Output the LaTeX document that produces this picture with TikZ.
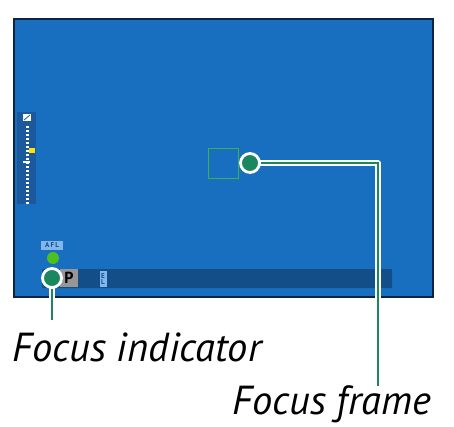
\documentclass[tikz,border=0pt]{standalone}
\usepackage{fontspec}
\setmainfont{PT Sans}
\usepackage{tikz}

\definecolor{screenblue}{RGB}{24,111,192}
\definecolor{bardark}{RGB}{19,78,136}
\definecolor{scaleblue}{RGB}{28,88,156}
\definecolor{rimnavy}{RGB}{12,36,66}
\definecolor{callgreen}{RGB}{26,135,95}
\definecolor{framegreen}{RGB}{60,178,72}
\definecolor{dotgreen}{RGB}{78,192,30}
\definecolor{tagblue}{RGB}{130,182,236}
\definecolor{pgray}{RGB}{150,150,150}

\tikzset{
  callout/.style={circle, draw=white, line width=2.8pt, fill=callgreen,
    minimum size=19pt, inner sep=0pt},
  leadwhite/.style={white, line width=5.5pt},
  leadgreen/.style={callgreen, line width=2.6pt},
  caption/.style={font=\itshape\fontsize{40.5}{44}\selectfont, inner sep=0pt},
  tag/.style={fill=tagblue, text=bardark, font=\bfseries\fontsize{7}{7}\selectfont,
    inner sep=0.6pt}
}

\begin{document}
\begin{tikzpicture}[x=1pt, y=-1pt]
		\useasboundingbox (0,0) rectangle (454,427);
		% screen
		\draw[rimnavy, line width=1.2pt, fill=screenblue] (14,19) rectangle (433,297);
		% exposure scale
		\fill[scaleblue] (17,112) rectangle (36,204);
		\fill[white] (23,114) rectangle (31,121);
		\draw[scaleblue, line width=0.8pt] (24,120) -- (30,115);
		\foreach \y in {126,130,...,202}
			\fill[white] (25.5,\y) rectangle (29,\y+1.6);
		\fill[white] (23,161) rectangle (30,163.5);
		\fill[yellow!85!orange] (29,148.5) rectangle (35,153.5);
		% bottom bar
		\fill[bardark, rounded corners=1pt] (42,269) rectangle (392,288);
		\fill[pgray] (60,269) rectangle (78,287);
		\node[font=\bfseries\fontsize{16}{16}\selectfont, inner sep=0pt] (pmode) at (69,278) {P};
		\node[tag, align=center, minimum width=7pt, minimum height=16pt] (elock) at (103,279) {E\\[-1.5pt]L};
		% focus indicator
		\node[tag, minimum width=22pt, minimum height=9pt] (afl) at (52,245) {A\,F\,L};
		\node[circle, fill=dotgreen, minimum size=12pt, inner sep=0pt] (fdot) at (53,258) {};
		% focus frame
		\node[draw=framegreen, line width=0.8pt, minimum size=30pt, inner sep=0pt] (fframe) at (223,163) {};
		% callouts
		\coordinate (indEnd) at (52,320);
		\coordinate (bend) at (378,163);
		\coordinate (frmEnd) at (378,386);
		\node[caption, anchor=base west] (indLabel) at (12,361) {Focus indicator};
		\node[caption, anchor=base west] (frmLabel) at (232,414) {Focus frame};
		\draw[leadwhite] (52,278) -- (indEnd);
		\draw[leadgreen] (52,278) -- (indEnd);
		\draw[leadwhite, line join=round] (250,163) -- (bend) -- (frmEnd);
		\draw[leadgreen] (250,163) -- (bend) -- (frmEnd);
		\node[callout] (indDot) at (52,278) {};
		\node[callout] (frmDot) at (250,163) {};
\end{tikzpicture}
\end{document}
